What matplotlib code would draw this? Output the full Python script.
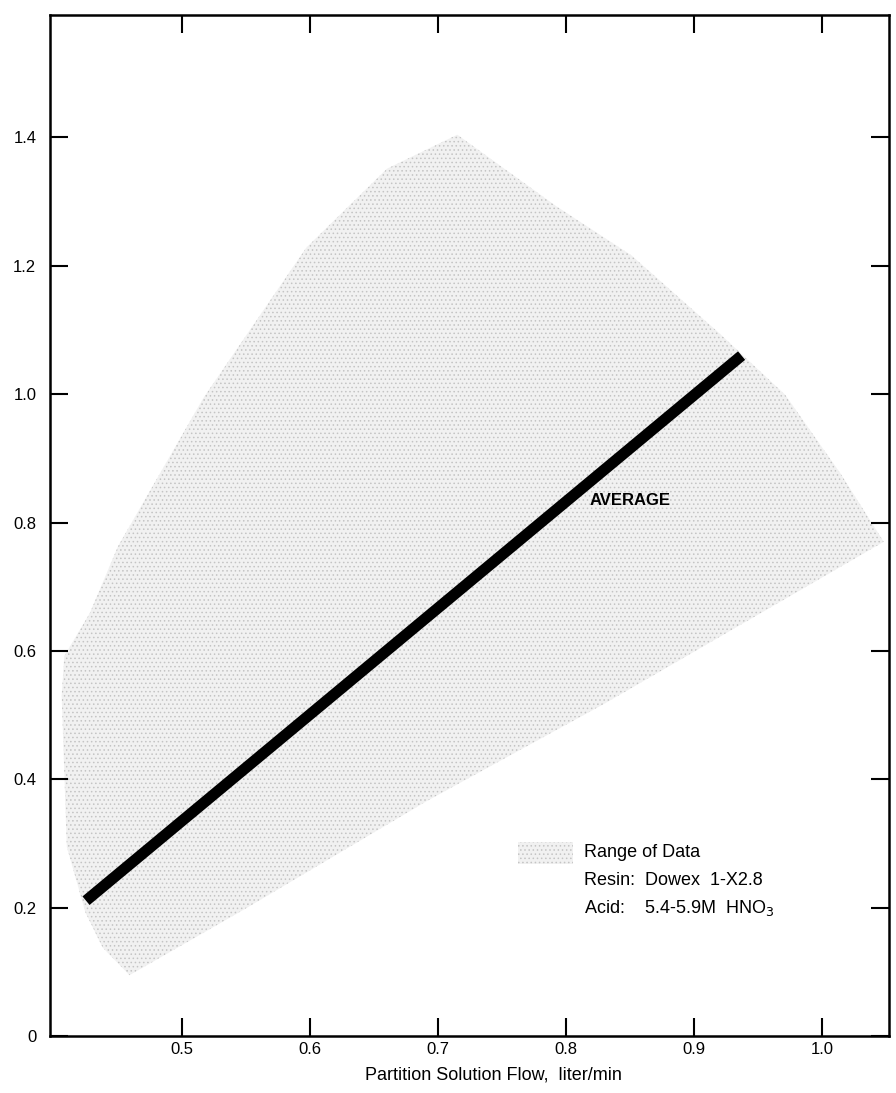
import matplotlib.pyplot as plt
from matplotlib.patches import Polygon, Rectangle

# average line (partition solution flow vs. y value)
avg_x = [0.425, 0.937]
avg_y = [0.211, 1.060]

# outline of the "range of data" band
range_x = [0.715, 0.792, 0.851, 0.920, 0.971, 1.014, 1.048, 0.830, 0.691, 0.549,
           0.459, 0.438, 0.4245, 0.410, 0.406, 0.408, 0.428, 0.450, 0.517, 0.597, 0.660]
range_y = [1.404, 1.293, 1.216, 1.094, 0.999, 0.877, 0.770, 0.518, 0.366, 0.198,
           0.095, 0.138, 0.193, 0.295, 0.530, 0.592, 0.659, 0.763, 0.995, 1.228, 1.351]

x_ticks = [0.5, 0.6, 0.7, 0.8, 0.9, 1.0]
x_labels = ["0.5", "0.6", "0.7", "0.8", "0.9", "1.0"]
y_ticks = [0, 0.2, 0.4, 0.6, 0.8, 1.0, 1.2, 1.4]
y_labels = ["0", "0.2", "0.4", "0.6", "0.8", "1.0", "1.2", "1.4"]

legend_lines = ["Range of Data", "Resin:  Dowex  1-X2.8", "Acid:    5.4-5.9M  HNO$_3$"]

plt.rcParams['font.family'] = ['Liberation Sans', 'DejaVu Sans']
plt.rcParams['hatch.linewidth'] = 0.6

fig = plt.figure(figsize=(8.96, 10.93), dpi=100)
ax = fig.add_axes([0.056, 0.052, 0.936, 0.934])

# stippled band
band = Polygon(list(zip(range_x, range_y)), closed=True, facecolor='#f1f1f1',
               edgecolor='#c4c4c4', hatch='....', linewidth=0, zorder=1)
ax.add_patch(band)

ax.plot(avg_x, avg_y, color='black', linewidth=8, solid_capstyle='butt', zorder=3)
ax.text(0.818, 0.835, "AVERAGE", fontsize=12, fontweight='bold', va='center', ha='left')

# key for the band
key = Rectangle((0.762, 0.268), 0.043, 0.034, facecolor='#f1f1f1', edgecolor='#c4c4c4',
                hatch='....', linewidth=0)
ax.add_patch(key)
for txt, yy in zip(legend_lines, [0.286, 0.243, 0.199]):
    ax.text(0.814, yy, txt, fontsize=13, va='center', ha='left')

ax.set_xlim(0.397, 1.052)
ax.set_ylim(0, 1.59)
ax.set_xticks(x_ticks)
ax.set_xticklabels(x_labels)
ax.set_yticks(y_ticks)
ax.set_yticklabels(y_labels)
ax.tick_params(direction='in', top=True, right=True, length=13, width=1.5,
               labelsize=12, pad=4)
ax.tick_params(axis='y', pad=10)
for s in ax.spines.values():
    s.set_linewidth(1.8)

ax.set_xlabel("Partition Solution Flow,  liter/min", fontsize=13)
ax.xaxis.set_label_coords(0.529, -0.030)

fig.savefig("out.png", dpi=100)
